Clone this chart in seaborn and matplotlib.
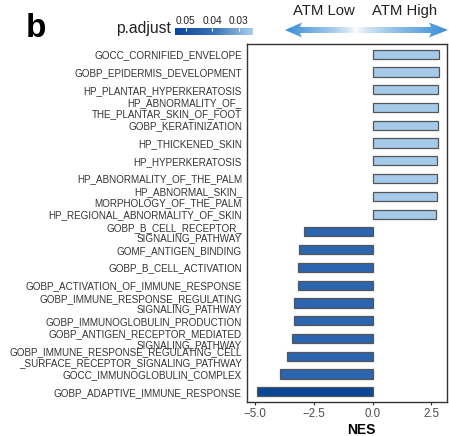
import numpy as np
import pandas as pd
import matplotlib
matplotlib.use("Agg")
import matplotlib.pyplot as plt
import seaborn as sns
from matplotlib.colors import LinearSegmentedColormap, Normalize
from matplotlib.path import Path
from matplotlib.patches import PathPatch

terms = [
    "GOCC_CORNIFIED_ENVELOPE",
    "GOBP_EPIDERMIS_DEVELOPMENT",
    "HP_PLANTAR_HYPERKERATOSIS",
    "HP_ABNORMALITY_OF_\nTHE_PLANTAR_SKIN_OF_FOOT",
    "GOBP_KERATINIZATION",
    "HP_THICKENED_SKIN",
    "HP_HYPERKERATOSIS",
    "HP_ABNORMALITY_OF_THE_PALM",
    "HP_ABNORMAL_SKIN_\nMORPHOLOGY_OF_THE_PALM",
    "HP_REGIONAL_ABNORMALITY_OF_SKIN",
    "GOBP_B_CELL_RECEPTOR_\nSIGNALING_PATHWAY",
    "GOMF_ANTIGEN_BINDING",
    "GOBP_B_CELL_ACTIVATION",
    "GOBP_ACTIVATION_OF_IMMUNE_RESPONSE",
    "GOBP_IMMUNE_RESPONSE_REGULATING\nSIGNALING_PATHWAY",
    "GOBP_IMMUNOGLOBULIN_PRODUCTION",
    "GOBP_ANTIGEN_RECEPTOR_MEDIATED\nSIGNALING_PATHWAY",
    "GOBP_IMMUNE_RESPONSE_REGULATING_CELL\n_SURFACE_RECEPTOR_SIGNALING_PATHWAY",
    "GOCC_IMMUNOGLOBULIN_COMPLEX",
    "GOBP_ADAPTIVE_IMMUNE_RESPONSE",
]
nes = [2.82, 2.80, 2.78, 2.78, 2.78, 2.78, 2.75, 2.73, 2.73, 2.71,
       -2.90, -3.14, -3.15, -3.18, -3.32, -3.33, -3.41, -3.65, -3.91, -4.89]
padj = [0.025] * 10 + [0.044] * 9 + [0.054]
cbar_ticks = [0.05, 0.04, 0.03]
x_ticks = [-5.0, -2.5, 0.0, 2.5]

sns.set_style("white")
plt.rcParams['font.family'] = ['Liberation Sans', 'DejaVu Sans']

W, H = 449, 436
fig = plt.figure(figsize=(W / 100, H / 100), dpi=100)
ax = fig.add_axes([247 / W, 1 - 402 / H, 200 / W, 358 / H])

cmap = LinearSegmentedColormap.from_list("padj", ["#a9cdeb", "#3a73b9", "#0a4698"])
norm = Normalize(0.0246, 0.054)
df = pd.DataFrame({"Term": terms, "NES": nes, "p.adjust": padj})
palette = [cmap(norm(p)) for p in padj]

sns.barplot(data=df, x="NES", y="Term", hue="Term", palette=palette, orient="h",
            width=0.52, edgecolor="#555555", linewidth=0.9, legend=False, ax=ax,
            saturation=1)

ax.set_xlim(-5.33, 3.16)
ax.set_ylim(19.58, -0.58)
ax.set_xticks(x_ticks)
ax.set_xticklabels([f"{t:.1f}".replace("-", "\u2212") for t in x_ticks])
ax.set_xlabel("")
ax.set_ylabel("")
ax.tick_params(axis="y", length=0, pad=3.6, labelsize=7.15, labelcolor="#333333")
ax.tick_params(axis="x", length=2.5, width=0.8, color="#333333", pad=2,
               labelsize=8.3, labelcolor="#4d4d4d", bottom=True)
for lab in ax.get_yticklabels():
    lab.set_linespacing(1.08)
for s in ax.spines.values():
    s.set_visible(True)
    s.set_color("#333333")
    s.set_linewidth(1.0)

# overlay for annotations (pixel coordinates)
ov = fig.add_axes([0, 0, 1, 1], zorder=5)
ov.set_xlim(0, W)
ov.set_ylim(H, 0)
ov.axis("off")
ov.patch.set_alpha(0)

ov.text(36, 37, "b", fontsize=24, fontweight="bold", ha="center", va="baseline", color="black")
ov.text(171, 29, "p.adjust", fontsize=11.3, ha="right", va="center", color="#222222")
ov.text(324, 11, "ATM Low", fontsize=10.7, ha="center", va="center", color="#222222")
ov.text(405, 11, "ATM High", fontsize=10.7, ha="center", va="center", color="#222222")
ov.text(361, 430, "NES", fontsize=10, fontweight="bold", ha="center", va="center", color="black")

# gradient double arrow
yc = 30
verts = [(285, yc), (302, yc - 7.5), (300, yc - 3), (431, yc - 3), (429, yc - 7.5),
         (448, yc), (429, yc + 7.5), (431, yc + 3), (300, yc + 3), (302, yc + 7.5), (285, yc)]
path = Path(verts, closed=True)
patch = PathPatch(path, facecolor="none", edgecolor="none")
ov.add_patch(patch)
xs = np.linspace(285, 448, 300)
mid = 356
t = np.where(xs < mid, (mid - xs) / (mid - 285), (xs - mid) / (448 - mid))
t = np.clip(t, 0, 1) ** 0.7
arrow_cmap = LinearSegmentedColormap.from_list("arr", ["#ffffff", "#3d8fd6"])
img = arrow_cmap(t)[None, :, :]
im = ov.imshow(img, extent=[285, 448, yc + 8, yc - 8], aspect="auto", interpolation="bilinear")
im.set_clip_path(patch)

# colorbar
cax = fig.add_axes([175 / W, 1 - 35 / H, 78 / W, 7 / H])
grad = np.linspace(0.054, 0.0246, 200)[None, :]
cax.imshow(grad, cmap=cmap, norm=norm, aspect="auto", extent=[0.054, 0.0246, 0, 1])
cax.set_xlim(0.054, 0.0246)
cax.set_yticks([])
cax.xaxis.tick_top()
cax.set_xticks(cbar_ticks)
cax.set_xticklabels([f"{v:.2f}" for v in cbar_ticks])
cax.tick_params(axis="x", direction="in", length=2, color="white", pad=1.5,
                labelsize=7.3, labelcolor="#222222")
for s in cax.spines.values():
    s.set_visible(False)

fig.savefig("out.png", dpi=100)
